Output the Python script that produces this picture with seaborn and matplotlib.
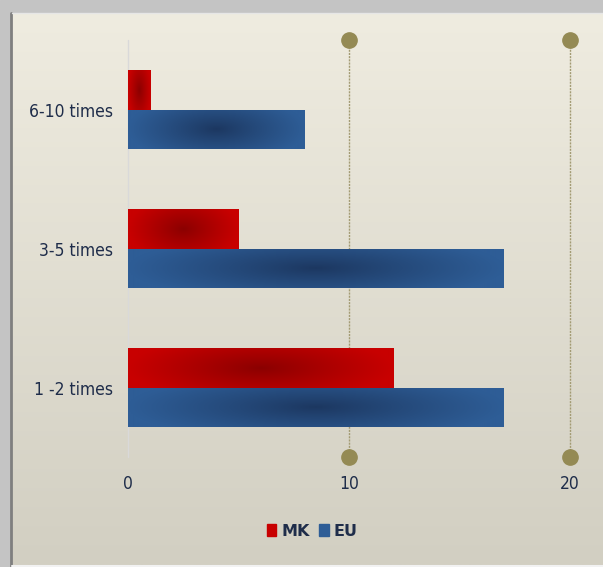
import numpy as np
import pandas as pd
import matplotlib
matplotlib.use("Agg")
import matplotlib.pyplot as plt
from matplotlib.colors import to_rgb
from matplotlib.patches import Rectangle
import seaborn as sns

# data
categories = ["6-10 times", "3-5 times", "1 -2 times"]
mk_values = [1, 5, 12]
eu_values = [8, 17, 17]
series = ["MK", "EU"]

df = pd.DataFrame({
    "cat": categories * 2,
    "val": mk_values + eu_values,
    "series": ["MK"] * 3 + ["EU"] * 3,
})

edge_cols = {"MK": "#C80000", "EU": "#2E5D96"}
mid_cols = {"MK": "#8A0000", "EU": "#1C3760"}
text_col = "#1F2D4A"
grid_col = "#948A54"

sns.set_style("white")
plt.rcParams["font.family"] = ["DejaVu Sans"]

fig = plt.figure(figsize=(6.03, 5.67), dpi=100)

# background: gray frame + beige gradient panel
bg = fig.add_axes([0, 0, 1, 1], zorder=-10)
bg.set_xlim(0, 603)
bg.set_ylim(567, 0)
bg.axis("off")
bg.add_patch(Rectangle((0, 0), 603, 567, color="#C4C4C4"))
top = np.array(to_rgb("#EFECE0"))
bot = np.array(to_rgb("#D2CFC2"))
t = np.linspace(0, 1, 256)[:, None, None]
grad = top * (1 - t) + bot * t
bg.imshow(grad, extent=(12, 603, 565, 13), aspect="auto", zorder=1)
bg.plot([11, 11], [13, 567], color="#7F7F7F", lw=2, zorder=2)
bg.plot([12, 603], [13, 13], color="#E6E6E6", lw=1, zorder=2)
bg.plot([12, 603], [566, 566], color="#F2F2F2", lw=1.5, zorder=2)

ax = fig.add_axes([128 / 603, 1 - 457 / 567, (570 - 128) / 603, (457 - 40) / 567])
ax.patch.set_alpha(0)
sns.barplot(data=df, y="cat", x="val", hue="series", hue_order=series,
            order=categories, orient="h", width=0.575,
            palette=edge_cols, ax=ax, legend=False, saturation=1)

ax.set_xlim(0, 20)
ax.set_ylim(2.5, -0.5)

# gradient fill on bars
nx, ny = 200, 40
u = np.linspace(-1, 1, nx)[None, :]
v = np.linspace(-1, 1, ny)[:, None]
d = np.clip(np.sqrt(u ** 2 + 0.35 * v ** 2), 0, 1)[..., None] ** 0.9
bars = list(ax.patches)
for i, p in enumerate(bars):
    s = series[i // len(categories)]
    c0 = np.array(to_rgb(mid_cols[s]))
    c1 = np.array(to_rgb(edge_cols[s]))
    img = c0 * (1 - d) + c1 * d
    x0, y0 = p.get_x(), p.get_y()
    w, h = p.get_width(), p.get_height()
    im = ax.imshow(img, extent=(x0, x0 + w, y0 + h, y0), aspect="auto",
                   zorder=2, interpolation="bilinear")
    im.set_clip_path(p)
    p.set_facecolor("none")
    p.set_edgecolor("none")
ax.set_xlim(0, 20)
ax.set_ylim(2.5, -0.5)

# gridlines with dot ends
for gx in [10, 20]:
    ax.plot([gx, gx], [2.5, -0.5], color="#A39B73", lw=1, ls=(0, (1.5, 0.8)),
            zorder=1, clip_on=False)
    ax.plot([gx, gx], [2.5, -0.5], ls="none", marker="o", ms=11,
            color=grid_col, zorder=3, clip_on=False)
ax.plot([0, 0], [2.5, -0.5], color="#D9D9D9", lw=1, zorder=1, clip_on=False)

for sp in ax.spines.values():
    sp.set_visible(False)
ax.set_xticks([0, 10, 20])
ax.tick_params(axis="both", length=0, labelsize=12.5, labelcolor=text_col)
ax.tick_params(axis="x", pad=13)
ax.tick_params(axis="y", pad=11)
for lbl in ax.get_xticklabels() + ax.get_yticklabels():
    lbl.set_fontstretch("condensed")
ax.set_xlabel("")
ax.set_ylabel("")

handles = [Rectangle((0, 0), 1, 1, color=edge_cols[s]) for s in series]
leg = fig.legend(handles, series, loc="center", bbox_to_anchor=(312 / 603, 1 - 531 / 567),
                 ncol=2, frameon=False, handlelength=0.6, handleheight=0.8,
                 handletextpad=0.3, columnspacing=0.6,
                 prop={"size": 11.5, "weight": "bold"})
for txt in leg.get_texts():
    txt.set_color(text_col)

fig.savefig("out.png", dpi=100)
